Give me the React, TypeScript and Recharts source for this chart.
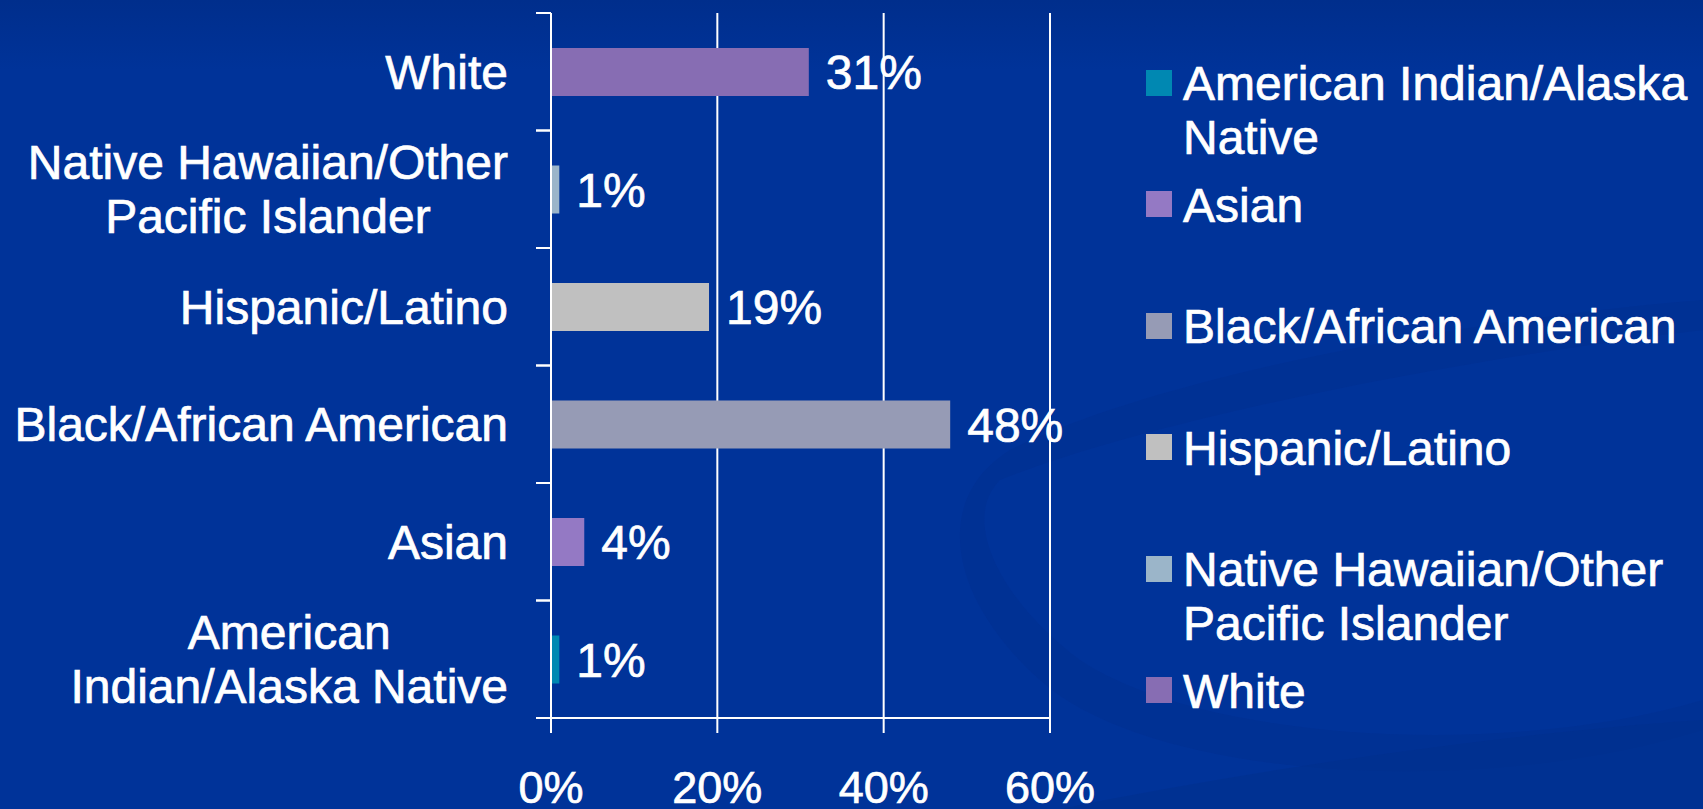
import React from 'react';
import { BarChart, Bar, XAxis, YAxis, CartesianGrid, Cell, LabelList, Legend } from 'recharts';

// ---- data ----
const categories = [
  'American Indian/Alaska Native',
  'Asian',
  'Black/African American',
  'Hispanic/Latino',
  'Native Hawaiian/Other Pacific Islander',
  'White',
];
const percentValues = [1, 4, 48, 19, 1, 31];
const barColors = ['#0088B2', '#9479C4', '#969BB5', '#C0C0C0', '#9BB5C9', '#876DB3'];
const xTicks = [0, 20, 40, 60];

const data = categories.map((name, i) => ({ name, value: percentValues[i] }));

const FONT = '"Liberation Sans", Arial, Helvetica, sans-serif';

let measureCtx: CanvasRenderingContext2D | null = null;
function measure(s: string, size: number): number {
  if (!measureCtx && typeof document !== 'undefined') {
    measureCtx = document.createElement('canvas').getContext('2d');
  }
  if (!measureCtx) return s.length * size * 0.5;
  measureCtx.font = `${size}px ${FONT}`;
  return measureCtx.measureText(s).width;
}

function wrapWords(text: string, size: number, maxW: number): string[] {
  const words = text.split(' ');
  const lines: string[] = [];
  let cur = '';
  for (const w of words) {
    const test = cur ? cur + ' ' + w : w;
    if (cur && measure(test, size) > maxW) {
      lines.push(cur);
      cur = w;
    } else {
      cur = test;
    }
  }
  if (cur) lines.push(cur);
  return lines;
}

const LABEL_SIZE = 48;
const LINE_GAP = 54;
const TICK_MARGIN = 43;
const EDGE_TICK = 15;

const CategoryTick = (props: any) => {
  const { x, y, payload } = props;
  const lines = wrapWords(String(payload.value), LABEL_SIZE, 500);
  const widths = lines.map((l) => measure(l, LABEL_SIZE));
  const maxW = Math.max(...widths);
  const n = lines.length;
  const single = n === 1;
  const cx = x - maxW / 2;
  const half = typeof payload.offset === 'number' ? payload.offset : 0;
  const axisX = x + TICK_MARGIN;
  return (
    <g>
      {half > 0 && (
        <>
          <line x1={axisX - EDGE_TICK} x2={axisX} y1={y - half} y2={y - half} stroke="#ffffff" strokeWidth={2} />
          <line x1={axisX - EDGE_TICK} x2={axisX} y1={y + half} y2={y + half} stroke="#ffffff" strokeWidth={2} />
        </>
      )}
      <text
        fill="#ffffff"
        stroke="#ffffff"
        strokeWidth={0.7}
        fontSize={LABEL_SIZE}
        fontFamily={FONT}
        textAnchor={single ? 'end' : 'middle'}
      >
        {lines.map((l, i) => (
          <tspan key={i} x={single ? x : cx} y={y + (i - (n - 1) / 2) * LINE_GAP + LABEL_SIZE * 0.358}>
            {l}
          </tspan>
        ))}
      </text>
    </g>
  );
};

const LegendContent = () => (
  <div
    style={{
      fontFamily: FONT,
      fontSize: 48,
      color: '#ffffff',
      lineHeight: '54px',
      textAlign: 'left',
      WebkitTextStroke: '0.7px #ffffff',
    }}
  >
    {categories.map((c, i) => (
      <div key={c} style={{ position: 'relative', height: 121.5 }}>
        <div
          style={{
            position: 'absolute',
            left: 6,
            top: 12.6,
            width: 26,
            height: 26,
            background: barColors[i],
          }}
        />
        <div style={{ position: 'absolute', left: 43, top: 0, width: 515 }}>{c}</div>
      </div>
    ))}
  </div>
);

export default function App() {
  return (
    <div
      style={{
        position: 'absolute',
        left: 0,
        top: 0,
        width: 1703,
        height: 809,
        overflow: 'hidden',
        background: 'linear-gradient(180deg, #002e8c 0px, #003399 70px, #003399 809px)',
      }}
    >
      <svg
        width={1703}
        height={809}
        style={{ position: 'absolute', left: 0, top: 0 }}
      >
        <path
          d="M 1703 330 C 1450 360 1150 420 1000 480 C 960 520 1000 600 1080 660 C 1200 740 1500 760 1703 700 L 1703 730 C 1480 800 1150 780 1040 680 C 950 600 930 500 1010 450 C 1150 380 1450 320 1703 300 Z"
          fill="#00308f"
          opacity={0.55}
        />
        <path
          d="M 1060 809 C 1300 760 1550 730 1703 720 L 1703 809 Z"
          fill="#002f8c"
          opacity={0.5}
        />
      </svg>
      <div style={{ position: 'absolute', left: 0, top: 0 }}>
        <BarChart
          width={1703}
          height={809}
          data={data}
          layout="vertical"
          margin={{ top: 13, right: 653, left: 51, bottom: 0 }}
        >
          <CartesianGrid
            horizontal={false}
            vertical={true}
            stroke="#ffffff"
            strokeWidth={2}
            yAxisId="cat"
          />
          <YAxis
            yAxisId="cat"
            type="category"
            dataKey="name"
            reversed
            width={500}
            interval={0}
            tickSize={0}
            tickMargin={TICK_MARGIN}
            axisLine={{ stroke: '#ffffff', strokeWidth: 2 }}
            tickLine={false}
            tick={<CategoryTick />}
          />
          <XAxis
            type="number"
            domain={[0, 60]}
            ticks={xTicks}
            interval={0}
            height={91}
            tickSize={15}
            tickMargin={38}
            tickFormatter={(v: any) => `${v}%`}
            axisLine={{ stroke: '#ffffff', strokeWidth: 2 }}
            tickLine={{ stroke: '#ffffff', strokeWidth: 2 }}
            tick={{ fill: '#ffffff', stroke: '#ffffff', strokeWidth: 0.7, fontSize: 45, fontFamily: FONT }}
          />
          <Legend
            layout="horizontal"
            verticalAlign="middle"
            align="center"
            wrapperStyle={{ left: 1140, top: 57, width: 563, height: 740 }}
            content={<LegendContent />}
          />
          <Bar dataKey="value" yAxisId="cat" barSize={48} isAnimationActive={false}>
            {data.map((d, i) => (
              <Cell key={d.name} fill={barColors[i]} />
            ))}
            <LabelList
              dataKey="value"
              position="right"
              offset={17}
              fill="#ffffff"
              stroke="#ffffff"
              strokeWidth={0.7}
              fontSize={48}
              fontFamily={FONT}
              formatter={(v: any) => `${v}%`}
            />
          </Bar>
        </BarChart>
      </div>
    </div>
  );
}
